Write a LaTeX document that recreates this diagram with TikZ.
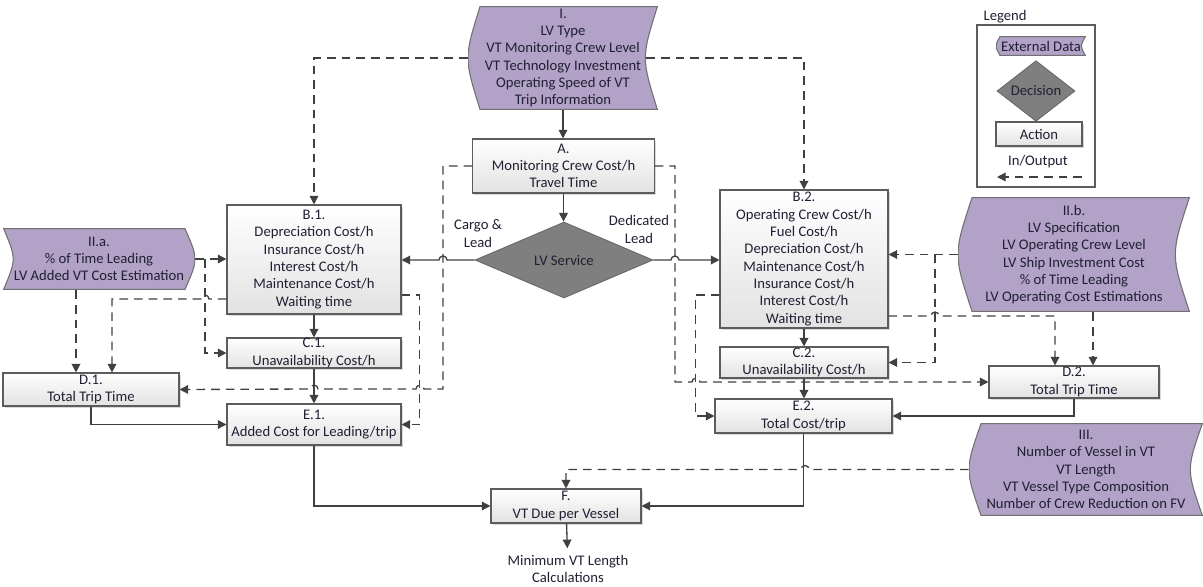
\documentclass[tikz,border=0pt]{standalone}
\usepackage{fontspec}
\setmainfont{Carlito}
\usetikzlibrary{shapes.geometric,arrows.meta,shadows}

\definecolor{txt}{HTML}{1F2033}
\definecolor{extpurple}{HTML}{B3A2C7}
\definecolor{extline}{HTML}{707070}
\definecolor{decfill}{HTML}{7F7F7F}
\definecolor{decline}{HTML}{666666}
\definecolor{boxline}{HTML}{5C5C5C}
\definecolor{boxbot}{HTML}{E2E2E2}
\definecolor{wire}{HTML}{404040}

\newcommand{\flowfont}{\fontsize{11}{13}\selectfont}

\tikzset{
  extc/.store in=\extc, extc=9pt,
  extshape/.style={fill=extpurple, draw=extline, line width=.8pt},
  extdata/.style 2 args={inner sep=0pt, align=center, text=txt, font=\flowfont,
    minimum width=#1, minimum height=#2,
    path picture={
      \draw[extshape] ([xshift=\extc,yshift=-.5pt]path picture bounding box.north west)
        -- ([xshift=-.5pt,yshift=-.5pt]path picture bounding box.north east)
        .. controls ([xshift=-.5pt-1.333*\extc]path picture bounding box.east)
        .. ([xshift=-.5pt,yshift=.5pt]path picture bounding box.south east)
        -- ([xshift=\extc,yshift=.5pt]path picture bounding box.south west)
        .. controls ([xshift=-.333*\extc]path picture bounding box.west) .. cycle;}},
  extdatam/.style 2 args={inner sep=0pt, align=center, text=txt, font=\flowfont,
    minimum width=#1, minimum height=#2,
    path picture={
      \draw[extshape] ([xshift=.5pt,yshift=-.5pt]path picture bounding box.north west)
        -- ([xshift=-\extc,yshift=-.5pt]path picture bounding box.north east)
        .. controls ([xshift=.333*\extc]path picture bounding box.east)
        .. ([xshift=-\extc,yshift=.5pt]path picture bounding box.south east)
        -- ([xshift=.5pt,yshift=.5pt]path picture bounding box.south west)
        .. controls ([xshift=1.333*\extc]path picture bounding box.west) .. cycle;}},
  action/.style 2 args={draw=boxline, line width=.8pt, top color=white, bottom color=boxbot,
    drop shadow={shadow xshift=1.2pt, shadow yshift=-1.2pt, opacity=.3},
    inner xsep=2pt, inner ysep=0pt, align=center, text=txt, font=\flowfont,
    minimum width=#1, minimum height=#2},
  decision/.style 2 args={diamond, fill=decfill, draw=decline, line width=.6pt, inner sep=0pt,
    text=txt, font=\flowfont, minimum width=#1, minimum height=#2},
  label/.style={align=center, text=txt, font=\flowfont, inner sep=1pt},
  conn/.style={draw=wire, line width=1pt, -{Triangle[length=6.5pt,width=6.5pt]}},
  io/.style={conn, dash pattern=on 6.5pt off 4.5pt},
  hopl/.style={insert path={arc[start angle=0,end angle=180,radius=3pt]}},
  hopr/.style={insert path={arc[start angle=180,end angle=0,radius=3pt]}},
}

\begin{document}
\begin{tikzpicture}[x=0.75pt, y=-0.75pt]
\useasboundingbox (0,0) rectangle (1203,586);

% legend
\node[draw=boxline, line width=.8pt, fill=white, minimum width=88.5pt, minimum height=121.5pt] (legBox) at (1036,106) {};
\node[label, anchor=west] (legTitle) at (982,17) {Legend};
\node[extdata={67.5pt}{15pt}, extc=3pt] (legExt) at (1041,46) {External Data};
\node[decision={58.5pt}{35.25pt}] (legDec) at (1036,91) {Decision};
\node[action={64.5pt}{18pt}] (legAct) at (1039,134) {Action};
\node[label] (legIO) at (1038,162) {In/Output};
\coordinate (legIOr) at (1082,177);
\coordinate (legIOl) at (997,177);
\draw[io] (legIOr) -- (legIOl);

% external data
\node[extdata={142.5pt}{78pt}] (inI) at (563,58) {I.\\LV Type\\VT Monitoring Crew Level\\VT Technology Investment\\Operating Speed of VT\\Trip Information};
\node[extdatam={144pt}{46.5pt}, extc=7.5pt] (inIIa) at (99,259) {II.a.\\\% of Time Leading\\LV Added VT Cost Estimation};
\node[extdata={174pt}{86.25pt}, extc=10.5pt] (inIIb) at (1074,254.5) {II.b.\\LV Specification\\LV Operating Crew Level\\LV Ship Investment Cost\\\% of Time Leading\\LV Operating Cost Estimations};
\node[extdata={175.5pt}{69.75pt}] (inIII) at (1086,469.5) {III.\\Number of Vessel in VT\\VT Length\\VT Vessel Type Composition\\Number of Crew Reduction on FV};

% actions
\node[action={136pt}{40.5pt}] (actA) at (563.5,166) {A.\\Monitoring Crew Cost/h\\Travel Time};
\node[decision={133.5pt}{57pt}] (decLV) at (564,260) {LV Service};
\node[label] (lblCargo) at (478,233.5) {Cargo \&\\Lead};
\node[label] (lblDedicated) at (639,229.5) {Dedicated\\Lead};

\node[action={130.5pt}{81.75pt}] (actB1) at (314,259.5) {B.1.\\Depreciation Cost/h\\Insurance Cost/h\\Interest Cost/h\\Maintenance Cost/h\\Waiting time};
\node[action={130.5pt}{22.5pt}] (actC1) at (314,353) {C.1.\\Unavailability Cost/h};
\node[action={132pt}{24.75pt}] (actD1) at (91,389.5) {D.1.\\Total Trip Time};
\node[action={130.5pt}{30.75pt}] (actE1) at (314,424.5) {E.1.\\Added Cost for Leading/trip};

\node[action={126pt}{103.5pt}] (actB2) at (804,259) {B.2.\\Operating Crew Cost/h\\Fuel Cost/h\\Depreciation Cost/h\\Maintenance Cost/h\\Insurance Cost/h\\Interest Cost/h\\Waiting time};
\node[action={126pt}{23.25pt}] (actC2) at (804,362.5) {C.2.\\Unavailability Cost/h};
\node[action={127.5pt}{24pt}] (actD2) at (1074,382) {D.2.\\Total Trip Time};
\node[action={132.75pt}{25.5pt}] (actE2) at (803.5,416) {E.2.\\Total Cost/trip};

\node[action={112.5pt}{25.5pt}] (actF) at (566,506) {F.\\VT Due per Vessel};
\node[label, inner ysep=5pt] (outMin) at (568,569) {Minimum VT Length\\Calculations};

% solid flow
\draw[conn] (inI.south) -- (inI.south |- actA.north);
\draw[conn] (actA.south) -- (actA.south |- decLV.north);
\draw[conn] (decLV.west) -- (447,260) [hopl] -- (decLV.west -| actB1.east);
\draw[conn] (decLV.east) -- (671,260) [hopr] -- (decLV.east -| actB2.west);
\draw[conn] (actB1) -- (actC1);
\draw[conn] (actC1) -- (actE1);
\draw[conn] (actD1.south) |- (actE1.west);
\draw[conn] (actE1.south) |- (actF.west);
\draw[conn] (actB2) -- (actC2);
\draw[conn] (actC2.south) -- (actC2.south |- actE2.north);
\draw[conn] (actD2.south) |- (actE2.east);
\draw[conn] (actE2.south) |- (actF.east);
\draw[conn] (actF) -- (outMin);

% in/output
\coordinate (splitIIa) at (205,259);
\coordinate (splitIIb) at (935,254.5);
\draw[io] (inI.west) -| (actB1.north);
\draw[io] ([xshift=-9pt]inI.east) -| (actB2.north);
\draw[io] (actA.west) -- (443,166) -- (443,389) -- (424,389) [hopl] -- (318,389) [hopl] -- (actD1.east);
\draw[io] (actA.east) -- (675,166) -- (675,382) -- (692,382) [hopr] -- (actD2.west);
\draw[io] (inIIa.east) -- (inIIa.east -| actB1.west);
\draw[io] (splitIIa) |- (actC1.west);
\draw[io] ([xshift=-17.25pt]inIIa.south) -- ([xshift=-17.25pt]inIIa.south |- actD1.north);
\draw[io] ([yshift=-29.6pt]actB1.west) -- (209,299) [hopl] -| ([xshift=15.75pt]actD1.north);
\draw[io] ([yshift=-26.6pt]actB1.east) -- ++(18,0) |- (actE1.east);
\draw[io] ([yshift=-27pt]actB2.west) -- ++(-24,0) |- (actE2.west);
\draw[io] (inIIb.west) -- (inIIb.west -| actB2.east);
\draw[io] (splitIIb) |- (actC2.east);
\draw[io] ([yshift=-42.75pt]actB2.east) -- (931,316) [hopr] -| ([xshift=-14.25pt]actD2.north);
\draw[io] ([xshift=14.25pt]inIIb.south) -- ([xshift=14.25pt]inIIb.south |- actD2.north);
\draw[io] (inIII.west) -- (809,469.5) [hopl] -| (actF.north);

\end{tikzpicture}
\end{document}
